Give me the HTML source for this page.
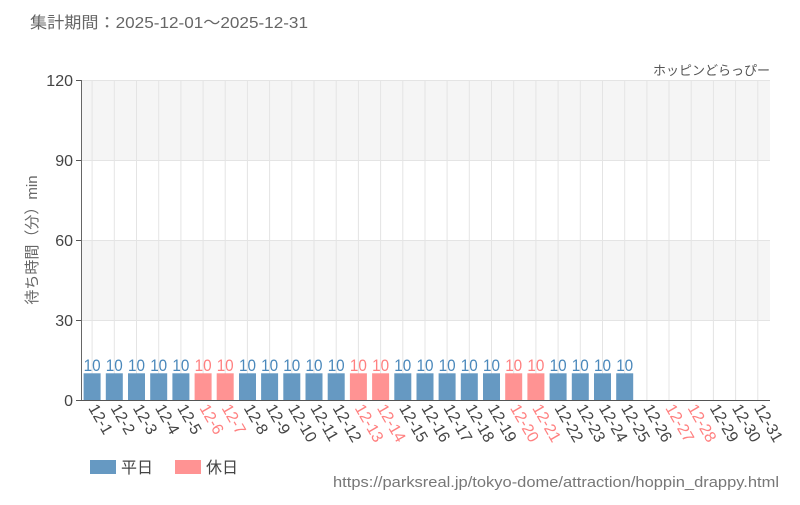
<!DOCTYPE html>
<html><head><meta charset="utf-8"><style>
body{margin:0;background:#fff;}
svg text{font-family:"Liberation Sans","Noto Sans CJK JP",sans-serif;}
</style></head><body>
<svg width="800" height="500" xmlns="http://www.w3.org/2000/svg">
<text x="30" y="28" font-size="16" fill="#666" textLength="278" lengthAdjust="spacingAndGlyphs">集計期間：2025-12-01～2025-12-31</text>
<text x="770" y="75" font-size="13" fill="#555" text-anchor="end">ホッピンどらっぴー</text>
<rect x="81" y="80" width="689" height="80" fill="#f5f5f5"/>
<rect x="81" y="240" width="689" height="80" fill="#f5f5f5"/>
<g stroke="#e4e4e4" stroke-width="1">
<line x1="81" y1="80.5" x2="770" y2="80.5"/><line x1="81" y1="160.5" x2="770" y2="160.5"/><line x1="81" y1="240.5" x2="770" y2="240.5"/><line x1="81" y1="320.5" x2="770" y2="320.5"/>
<line x1="92.1" y1="80" x2="92.1" y2="400"/><line x1="114.3" y1="80" x2="114.3" y2="400"/><line x1="136.5" y1="80" x2="136.5" y2="400"/><line x1="158.7" y1="80" x2="158.7" y2="400"/><line x1="180.9" y1="80" x2="180.9" y2="400"/><line x1="203.1" y1="80" x2="203.1" y2="400"/><line x1="225.2" y1="80" x2="225.2" y2="400"/><line x1="247.4" y1="80" x2="247.4" y2="400"/><line x1="269.6" y1="80" x2="269.6" y2="400"/><line x1="291.8" y1="80" x2="291.8" y2="400"/><line x1="314" y1="80" x2="314" y2="400"/><line x1="336.2" y1="80" x2="336.2" y2="400"/><line x1="358.4" y1="80" x2="358.4" y2="400"/><line x1="380.6" y1="80" x2="380.6" y2="400"/><line x1="402.8" y1="80" x2="402.8" y2="400"/><line x1="425" y1="80" x2="425" y2="400"/><line x1="447.1" y1="80" x2="447.1" y2="400"/><line x1="469.3" y1="80" x2="469.3" y2="400"/><line x1="491.5" y1="80" x2="491.5" y2="400"/><line x1="513.7" y1="80" x2="513.7" y2="400"/><line x1="535.9" y1="80" x2="535.9" y2="400"/><line x1="558.1" y1="80" x2="558.1" y2="400"/><line x1="580.3" y1="80" x2="580.3" y2="400"/><line x1="602.5" y1="80" x2="602.5" y2="400"/><line x1="624.7" y1="80" x2="624.7" y2="400"/><line x1="646.9" y1="80" x2="646.9" y2="400"/><line x1="669" y1="80" x2="669" y2="400"/><line x1="691.2" y1="80" x2="691.2" y2="400"/><line x1="713.4" y1="80" x2="713.4" y2="400"/><line x1="735.6" y1="80" x2="735.6" y2="400"/><line x1="757.8" y1="80" x2="757.8" y2="400"/>
</g>
<g fill="#6699c2">
<rect x="83.6" y="373.3" width="17" height="26.7"/><rect x="105.8" y="373.3" width="17" height="26.7"/><rect x="128" y="373.3" width="17" height="26.7"/><rect x="150.2" y="373.3" width="17" height="26.7"/><rect x="172.4" y="373.3" width="17" height="26.7"/>
<rect x="239" y="373.3" width="17" height="26.7"/><rect x="261.1" y="373.3" width="17" height="26.7"/><rect x="283.3" y="373.3" width="17" height="26.7"/><rect x="305.5" y="373.3" width="17" height="26.7"/><rect x="327.7" y="373.3" width="17" height="26.7"/>
<rect x="394.3" y="373.3" width="17" height="26.7"/><rect x="416.5" y="373.3" width="17" height="26.7"/><rect x="438.6" y="373.3" width="17" height="26.7"/><rect x="460.8" y="373.3" width="17" height="26.7"/><rect x="483" y="373.3" width="17" height="26.7"/>
<rect x="549.6" y="373.3" width="17" height="26.7"/><rect x="571.8" y="373.3" width="17" height="26.7"/><rect x="594" y="373.3" width="17" height="26.7"/><rect x="616.2" y="373.3" width="17" height="26.7"/>
</g>
<g fill="#ff9393">
<rect x="194.6" y="373.3" width="17" height="26.7"/><rect x="216.7" y="373.3" width="17" height="26.7"/><rect x="349.9" y="373.3" width="17" height="26.7"/><rect x="372.1" y="373.3" width="17" height="26.7"/><rect x="505.2" y="373.3" width="17" height="26.7"/><rect x="527.4" y="373.3" width="17" height="26.7"/>
</g>
<g font-size="17" fill="#4a88bb">
<text x="83.6" y="371" textLength="17" lengthAdjust="spacingAndGlyphs">10</text><text x="105.8" y="371" textLength="17" lengthAdjust="spacingAndGlyphs">10</text><text x="128" y="371" textLength="17" lengthAdjust="spacingAndGlyphs">10</text><text x="150.2" y="371" textLength="17" lengthAdjust="spacingAndGlyphs">10</text><text x="172.4" y="371" textLength="17" lengthAdjust="spacingAndGlyphs">10</text>
<text x="239" y="371" textLength="17" lengthAdjust="spacingAndGlyphs">10</text><text x="261.1" y="371" textLength="17" lengthAdjust="spacingAndGlyphs">10</text><text x="283.3" y="371" textLength="17" lengthAdjust="spacingAndGlyphs">10</text><text x="305.5" y="371" textLength="17" lengthAdjust="spacingAndGlyphs">10</text><text x="327.7" y="371" textLength="17" lengthAdjust="spacingAndGlyphs">10</text>
<text x="394.3" y="371" textLength="17" lengthAdjust="spacingAndGlyphs">10</text><text x="416.5" y="371" textLength="17" lengthAdjust="spacingAndGlyphs">10</text><text x="438.6" y="371" textLength="17" lengthAdjust="spacingAndGlyphs">10</text><text x="460.8" y="371" textLength="17" lengthAdjust="spacingAndGlyphs">10</text><text x="483" y="371" textLength="17" lengthAdjust="spacingAndGlyphs">10</text>
<text x="549.6" y="371" textLength="17" lengthAdjust="spacingAndGlyphs">10</text><text x="571.8" y="371" textLength="17" lengthAdjust="spacingAndGlyphs">10</text><text x="594" y="371" textLength="17" lengthAdjust="spacingAndGlyphs">10</text><text x="616.2" y="371" textLength="17" lengthAdjust="spacingAndGlyphs">10</text>
<g fill="#ff8080"><text x="194.6" y="371" textLength="17" lengthAdjust="spacingAndGlyphs">10</text><text x="216.7" y="371" textLength="17" lengthAdjust="spacingAndGlyphs">10</text><text x="349.9" y="371" textLength="17" lengthAdjust="spacingAndGlyphs">10</text><text x="372.1" y="371" textLength="17" lengthAdjust="spacingAndGlyphs">10</text><text x="505.2" y="371" textLength="17" lengthAdjust="spacingAndGlyphs">10</text><text x="527.4" y="371" textLength="17" lengthAdjust="spacingAndGlyphs">10</text></g>
</g>
<line x1="81.5" y1="80" x2="81.5" y2="400" stroke="#666"/>
<line x1="76" y1="400.5" x2="770" y2="400.5" stroke="#555"/>
<g stroke="#555">
<line x1="76" y1="80.5" x2="81" y2="80.5"/><line x1="76" y1="160.5" x2="81" y2="160.5"/><line x1="76" y1="240.5" x2="81" y2="240.5"/><line x1="76" y1="320.5" x2="81" y2="320.5"/>
</g>
<g font-size="16" fill="#444" text-anchor="end">
<text x="73" y="86">120</text><text x="73" y="166">90</text><text x="73" y="246">60</text><text x="73" y="326">30</text><text x="73" y="406">0</text>
</g>
<text transform="translate(37,240) rotate(-90)" font-size="15" fill="#666" text-anchor="middle">待ち時間（分）min</text>
<g font-size="16" fill="#444">
<text transform="translate(88,408) rotate(60)">12-1</text><text transform="translate(110.3,408) rotate(60)">12-2</text><text transform="translate(132.5,408) rotate(60)">12-3</text><text transform="translate(154.7,408) rotate(60)">12-4</text><text transform="translate(176.9,408) rotate(60)">12-5</text>
<text transform="translate(199.1,408) rotate(60)" fill="#ff8080">12-6</text><text transform="translate(221.2,408) rotate(60)" fill="#ff8080">12-7</text>
<text transform="translate(243.4,408) rotate(60)">12-8</text><text transform="translate(265.6,408) rotate(60)">12-9</text><text transform="translate(287.8,408) rotate(60)">12-10</text><text transform="translate(310,408) rotate(60)">12-11</text><text transform="translate(332.2,408) rotate(60)">12-12</text>
<text transform="translate(354.4,408) rotate(60)" fill="#ff8080">12-13</text><text transform="translate(376.6,408) rotate(60)" fill="#ff8080">12-14</text>
<text transform="translate(398.8,408) rotate(60)">12-15</text><text transform="translate(421,408) rotate(60)">12-16</text><text transform="translate(443.1,408) rotate(60)">12-17</text><text transform="translate(465.3,408) rotate(60)">12-18</text><text transform="translate(487.5,408) rotate(60)">12-19</text>
<text transform="translate(509.7,408) rotate(60)" fill="#ff8080">12-20</text><text transform="translate(531.9,408) rotate(60)" fill="#ff8080">12-21</text>
<text transform="translate(554.1,408) rotate(60)">12-22</text><text transform="translate(576.3,408) rotate(60)">12-23</text><text transform="translate(598.5,408) rotate(60)">12-24</text><text transform="translate(620.7,408) rotate(60)">12-25</text><text transform="translate(642.9,408) rotate(60)">12-26</text>
<text transform="translate(665,408) rotate(60)" fill="#ff8080">12-27</text><text transform="translate(687.2,408) rotate(60)" fill="#ff8080">12-28</text>
<text transform="translate(709.4,408) rotate(60)">12-29</text><text transform="translate(731.6,408) rotate(60)">12-30</text><text transform="translate(753.8,408) rotate(60)">12-31</text>
</g>
<rect x="90" y="460" width="26" height="14" fill="#6699c2"/>
<text x="121" y="473" font-size="16" fill="#444">平日</text>
<rect x="175" y="460" width="26" height="14" fill="#ff9393"/>
<text x="206" y="473" font-size="16" fill="#444">休日</text>
<text x="333" y="487" font-size="15" fill="#777" textLength="446" lengthAdjust="spacingAndGlyphs">https://parksreal.jp/tokyo-dome/attraction/hoppin_drappy.html</text>
</svg>
</body></html>
